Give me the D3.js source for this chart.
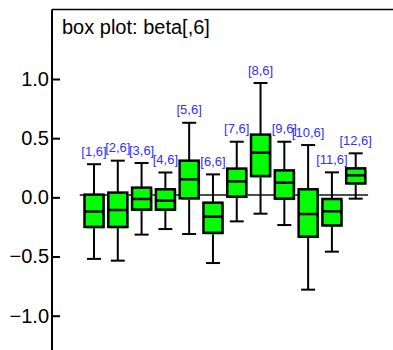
<!DOCTYPE html>
<html><head><meta charset="utf-8">
<script src="https://cdn.jsdelivr.net/npm/d3@7"></script>
<style>html,body{margin:0;padding:0;background:#fff;}svg{display:block;font-family:"Liberation Sans",Arial,sans-serif;}</style>
</head><body>
<script>
const labels = ["[1,6]","[2,6]","[3,6]","[4,6]","[5,6]","[6,6]","[7,6]","[8,6]","[9,6]","[10,6]","[11,6]","[12,6]"];
const whiskerHigh = [0.28, 0.31, 0.29, 0.21, 0.63, 0.194, 0.47, 0.966, 0.47, 0.442, 0.211, 0.372];
const q3 = [0.023, 0.04, 0.082, 0.068, 0.31, -0.045, 0.243, 0.53, 0.228, 0.068, -0.014, 0.245];
const median = [-0.12, -0.107, -0.014, -0.028, 0.152, -0.163, 0.135, 0.378, 0.124, -0.141, -0.118, 0.186];
const q1 = [-0.25, -0.25, -0.104, -0.104, -0.008, -0.30, 0.006, 0.18, -0.011, -0.332, -0.237, 0.118];
const whiskerLow = [-0.52, -0.535, -0.315, -0.268, -0.31, -0.555, -0.203, -0.138, -0.234, -0.78, -0.459, -0.011];
const refValue = 0.02;
const yTicks = [1.0, 0.5, 0.0, -0.5, -1.0];
const title = "box plot: beta[,6]";

const W = 393, H = 350;
const svg = d3.select("body").append("svg").attr("width", W).attr("height", H);
const x = d3.scaleLinear().domain([1, 12]).range([94, 355.7]);
const y = d3.scaleLinear().domain([-1, 1]).range([315.7, 79]);
const axisX = 52, topY = 9.5;

// frame
svg.append("line").attr("x1", axisX).attr("x2", W).attr("y1", topY).attr("y2", topY)
  .attr("stroke", "#000").attr("stroke-width", 1.5);
svg.append("line").attr("x1", axisX).attr("x2", axisX).attr("y1", topY).attr("y2", H)
  .attr("stroke", "#000").attr("stroke-width", 2);

// y axis
const ax = svg.append("g").attr("transform", `translate(${axisX},0)`)
  .call(d3.axisLeft(y).tickValues(yTicks).tickFormat(d3.format(".1f")).tickSize(-8).tickPadding(3));
ax.select(".domain").remove();
ax.selectAll(".tick line").attr("stroke", "#000").attr("stroke-width", 2);
ax.selectAll(".tick text").attr("font-size", 20).attr("fill", "#000")
  .attr("font-family", "'Liberation Sans',Arial,sans-serif");

// title
svg.append("text").attr("x", 62).attr("y", 33.5).attr("font-size", 20).attr("fill", "#000").text(title);

// reference line
svg.append("line").attr("x1", x(0.4)).attr("x2", x(12.52)).attr("y1", y(refValue)).attr("y2", y(refValue))
  .attr("stroke", "#111").attr("stroke-width", 1.6);

const data = labels.map((l, i) => ({l, i: i + 1, hi: whiskerHigh[i], q3: q3[i], med: median[i], q1: q1[i], lo: whiskerLow[i]}));
const bw = 19, cap = 14;
const g = svg.append("g").selectAll("g").data(data).join("g");
g.append("line").attr("x1", d => x(d.i)).attr("x2", d => x(d.i)).attr("y1", d => y(d.hi)).attr("y2", d => y(d.lo))
  .attr("stroke", "#000").attr("stroke-width", 2);
g.append("line").attr("x1", d => x(d.i) - cap / 2).attr("x2", d => x(d.i) + cap / 2).attr("y1", d => y(d.hi)).attr("y2", d => y(d.hi))
  .attr("stroke", "#000").attr("stroke-width", 2);
g.append("line").attr("x1", d => x(d.i) - cap / 2).attr("x2", d => x(d.i) + cap / 2).attr("y1", d => y(d.lo)).attr("y2", d => y(d.lo))
  .attr("stroke", "#000").attr("stroke-width", 2);
// green shadow
g.append("rect").attr("x", d => x(d.i) - bw / 2 + 1.5).attr("y", d => y(d.q3) + 1.5)
  .attr("width", bw).attr("height", d => y(d.q1) - y(d.q3)).attr("fill", "#00ff00");
g.append("rect").attr("x", d => x(d.i) - bw / 2).attr("y", d => y(d.q3))
  .attr("width", bw).attr("height", d => y(d.q1) - y(d.q3)).attr("fill", "#00ff00")
  .attr("stroke", "#000").attr("stroke-width", 2.5);
g.append("line").attr("x1", d => x(d.i) - bw / 2).attr("x2", d => x(d.i) + bw / 2).attr("y1", d => y(d.med)).attr("y2", d => y(d.med))
  .attr("stroke", "#000").attr("stroke-width", 2.5);
g.append("text").attr("x", d => x(d.i)).attr("y", d => y(d.hi) - 8.5).attr("text-anchor", "middle")
  .attr("font-size", 13).attr("fill", "#3030ff").text(d => d.l);
</script>
</body></html>
